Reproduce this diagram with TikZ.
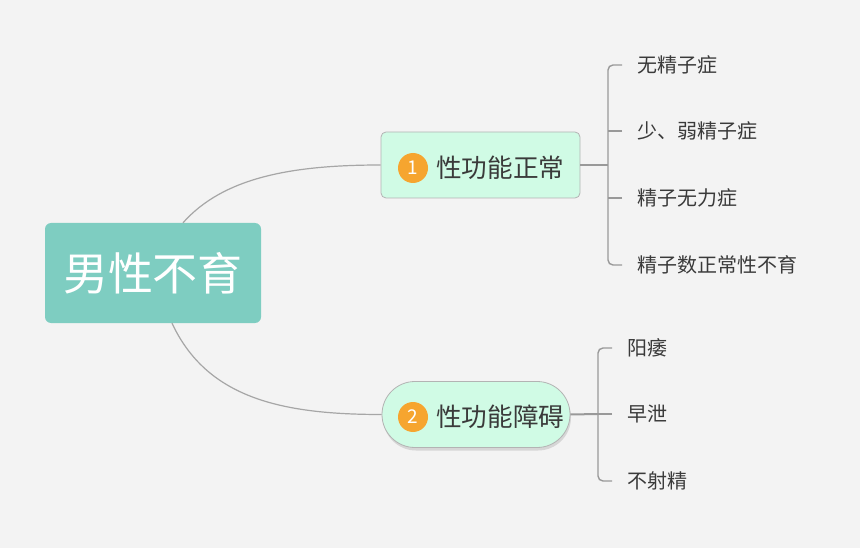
\documentclass[tikz,border=0pt]{standalone}
\usepackage{fontspec}
\newfontfamily\cjk{Noto Sans CJK SC}
\usetikzlibrary{shadows}
\definecolor{bgc}{HTML}{F3F3F3}
\definecolor{rootc}{HTML}{7ECDC1}
\definecolor{mint}{HTML}{D0FBE5}
\definecolor{edgec}{HTML}{B3B3B3}
\definecolor{linec}{HTML}{A6A6A6}
\definecolor{brkc}{HTML}{999999}
\definecolor{orng}{HTML}{F6A52F}
\definecolor{txtc}{HTML}{3A3A3A}

\begin{document}
\begin{tikzpicture}[x=1pt, y=-1pt, every node/.style={font=\cjk},
	rootbox/.style={fill=rootc, rounded corners=6pt, minimum width=216pt, minimum height=100pt, text=white, font=\cjk\fontsize{45}{45}\selectfont},
	topic/.style={fill=mint, draw=edgec, line width=0.8pt, minimum height=66pt},
	badge/.style={circle, fill=orng, minimum size=30pt, inner sep=0pt, text=white, font=\cjk\fontsize{19}{19}\selectfont},
	ttext/.style={anchor=west, inner sep=0pt, text=txtc, font=\cjk\fontsize{25.6}{25.6}\selectfont},
	leaf/.style={anchor=west, inner sep=0pt, text=txtc, font=\cjk\fontsize{20}{20}\selectfont},
	link/.style={draw=linec, line width=1.2pt},
	stem/.style={draw=brkc, line width=2pt},
	brk/.style={draw=brkc, line width=1.4pt}]
	\fill[bgc] (0,0) rectangle (860,548);
	\useasboundingbox (0,0) rectangle (860,548);
	% root
	\node[rootbox] (root) at (153,273) {男性不育};
	% first branch
	\node[topic, rounded corners=5pt, minimum width=199pt] (b1) at (480.5,165) {};
	\node[badge] (n1) at (413,168) {1};
	\node[ttext] (t1) at (436,168) {性功能正常};
	% second branch
	\node[topic, rounded corners=33pt, minimum width=188pt, drop shadow={opacity=0.25, shadow xshift=1pt, shadow yshift=-3pt}] (b2) at (476,414.5) {};
	\node[badge] (n2) at (413,417) {2};
	\node[ttext] (t2) at (436,417) {性功能障碍};
	% curves from root
	\draw[link] ([xshift=30pt]root.north) .. controls +(40,-45) and +(-90,0) .. (b1.west);
	\draw[link] ([xshift=19pt]root.south) .. controls +(35,75) and +(-100,0) .. (b2.west);
	% leaves of first branch
	\foreach \i/\txt/\yy in {1/无精子症/65, 2/少、弱精子症/131, 3/精子无力症/198, 4/精子数正常性不育/265} {
		\node[leaf] (a\i) at (637,\yy) {\txt};
	}
	\coordinate (k1) at (608,165);
	\draw[stem] (b1.east) -- (k1);
	\draw[brk, rounded corners=5pt] ([xshift=-15pt]a1.west) -| (k1) |- ([xshift=-15pt]a4.west);
	\foreach \i in {2,3} {
		\draw[brk, rounded corners=4pt] ([xshift=-15pt]a\i.west) -- ++(-14,0);
	}
	% leaves of second branch
	\foreach \i/\txt/\yy in {1/阳痿/348, 2/早泄/414, 3/不射精/481} {
		\node[leaf] (c\i) at (627,\yy) {\txt};
	}
	\coordinate (k2) at (598,414);
	\draw[stem] (b2.east) -- (k2);
	\draw[brk, rounded corners=5pt] ([xshift=-15pt]c1.west) -| (k2) |- ([xshift=-15pt]c3.west);
	\draw[brk] ([xshift=-15pt]c2.west) -- (k2);
\end{tikzpicture}
\end{document}
